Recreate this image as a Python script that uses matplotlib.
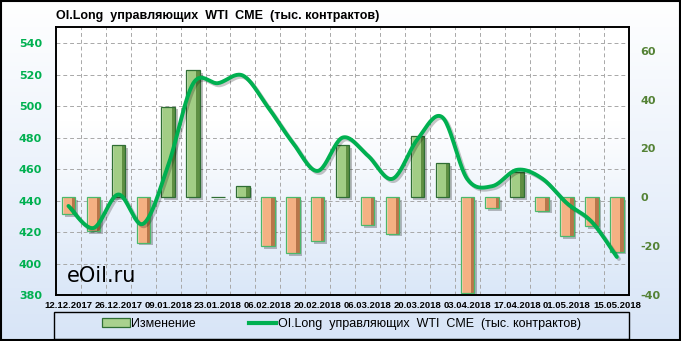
import numpy as np
import matplotlib
matplotlib.use("Agg")
import matplotlib.pyplot as plt
from matplotlib import patheffects as pe
from matplotlib.patches import Rectangle, Patch
from matplotlib.lines import Line2D
from matplotlib.colors import to_rgb

# ---------------- data ----------------
dates = ["12.12.2017", "19.12.2017", "26.12.2017", "02.01.2018", "09.01.2018",
         "16.01.2018", "23.01.2018", "30.01.2018", "06.02.2018", "13.02.2018",
         "20.02.2018", "27.02.2018", "06.03.2018", "13.03.2018", "20.03.2018",
         "27.03.2018", "03.04.2018", "10.04.2018", "17.04.2018", "24.04.2018",
         "01.05.2018", "08.05.2018", "15.05.2018"]
oi_long = [436.6, 422.6, 443.9, 425.3, 462.4, 514.4, 514.7, 519.5, 499.5, 476.8,
           458.9, 480.1, 468.8, 453.9, 479.0, 493.0, 453.7, 449.2, 459.6, 454.1,
           438.3, 426.4, 404.2]
change = [-6.9, -13.8, 21.3, -18.6, 37.1, 52.0, 0.3, 4.8, -20.0, -22.7,
          -17.9, 21.2, -11.3, -14.9, 25.1, 14.0, -39.3, -4.5, 10.4, -5.5,
          -15.8, -11.9, -22.2]
left_ticks = [380, 400, 420, 440, 460, 480, 500, 520, 540]
right_ticks = [-40, -20, 0, 20, 40, 60]
title = "OI.Long  управляющих  WTI  CME  (тыс. контрактов)"
bar_label = "Изменение"
line_label = "OI.Long  управляющих  WTI  CME  (тыс. контрактов)"
watermark = "eOil.ru"

FONT = ["Liberation Sans", "DejaVu Sans"]
TICKFONT = ["DejaVu Sans"]

W, H = 681, 341
fig = plt.figure(figsize=(W / 100, H / 100), dpi=100)

# figure background gradient
bg = fig.add_axes([0, 0, 1, 1], zorder=-10)
bg.axis("off")
t = np.linspace(0, 1, 256)[:, None]
top_c, bot_c = np.array(to_rgb("#ffffff")), np.array(to_rgb("#d8e5f7"))
img = top_c[None, None, :] * (1 - t[..., None]) + bot_c[None, None, :] * t[..., None]
bg.imshow(img, aspect="auto", extent=(0, 1, 0, 1), interpolation="bilinear")
bg.set_xlim(0, 1); bg.set_ylim(0, 1)

# main axes (left scale for line)
ax = fig.add_axes([56 / W, 46 / H, 573.3 / W, 268 / H])
tt = np.clip((np.linspace(0, 1, 256) - 0.35) / 0.65, 0, 1)[:, None]
pc_top, pc_bot = np.array(to_rgb("#ffffff")), np.array(to_rgb("#dae7f8"))
pimg = pc_top[None, None, :] * (1 - tt[..., None]) + pc_bot[None, None, :] * tt[..., None]
ax.imshow(pimg, aspect="auto", extent=(0, 1, 0, 1), transform=ax.transAxes,
          interpolation="bilinear", zorder=0)
ax.set_xlim(-0.5, len(dates) - 0.5)
ax.set_ylim(380, 550.4)

ax.set_yticks(left_ticks, labels=[str(v) for v in left_ticks],
              fontweight="bold", family=TICKFONT, fontsize=8)
ax.tick_params(axis="y", length=0, pad=10, labelcolor="#00b050")
xt = list(range(0, len(dates), 2))
ax.set_xticks(xt, labels=[dates[i] for i in xt], fontweight="bold",
              family=FONT, fontsize=6.8)
ax.set_xticks(np.arange(0.5, len(dates) - 1, 1), minor=True)
ax.tick_params(axis="x", which="both", length=0, pad=4)
gkw = dict(color="#a8a8a8", linewidth=0.7, linestyle=(0, (4, 3)))
ax.grid(True, axis="y", which="major", **gkw)
ax.grid(True, axis="x", which="minor", **gkw)
ax.grid(False, axis="x", which="major")
ax.set_axisbelow(True)
for s in ax.spines.values():
    s.set_color("black"); s.set_linewidth(1.2)

# twin axes (right scale for bars)
ax2 = ax.twinx()
ax2.set_ylim(-40, 69.7)
ax2.set_yticks(right_ticks, labels=[str(v) for v in right_ticks],
               fontweight="bold", family=TICKFONT, fontsize=8)
ax2.tick_params(axis="y", length=0, pad=8, labelcolor="#548235")
for s in ax2.spines.values():
    s.set_color("black"); s.set_linewidth(1.2)

x = np.arange(len(dates))
bar_w = 0.54
colors = ["#a2cd85" if v >= 0 else "#f4b183" for v in change]
bars = ax2.bar(x, change, width=bar_w, color=colors, linewidth=0, zorder=2)
for p, v in zip(bars.patches, change):
    p.set_path_effects([pe.SimplePatchShadow(offset=(2, -2), shadow_rgbFace="k", alpha=0.25),
                        pe.Normal()])
    x0, w = p.get_x(), p.get_width()
    y0, h = p.get_y(), p.get_height()
    pos = v >= 0
    # bevel shading: light left strip, dark right strip
    ax2.add_patch(Rectangle((x0, y0), w * 0.15, h, linewidth=0, zorder=2.1,
                            facecolor="#c4e2ae" if pos else "#fbcfae"))
    ax2.add_patch(Rectangle((x0 + w * 0.75, y0), w * 0.25, h, linewidth=0, zorder=2.1,
                            facecolor="#5f8f43" if pos else "#b8764a"))
    ax2.add_patch(Rectangle((x0, y0), w, h, fill=False, zorder=2.2,
                            edgecolor="#2f6e34" if pos else "#4bb86b", linewidth=0.9))
ax.set_xlim(-0.5, len(dates) - 0.5)
ax2.set_ylim(-40, 69.7)


# smoothed line (Catmull-Rom rendering through the data points)
def smooth(xv, yv, n=24):
    xv = np.asarray(xv, float); yv = np.asarray(yv, float)
    sx, sy = [], []
    m = len(xv)
    for i in range(m - 1):
        i0, i3 = max(i - 1, 0), min(i + 2, m - 1)
        tt_ = np.linspace(0, 1, n, endpoint=False)
        for arr, out in ((xv, sx), (yv, sy)):
            p0, p1, p2, p3 = arr[i0], arr[i], arr[i + 1], arr[i3]
            c1 = p1 + (p2 - p0) / 6
            c2 = p2 - (p3 - p1) / 6
            out.extend((1 - tt_) ** 3 * p1 + 3 * (1 - tt_) ** 2 * tt_ * c1
                       + 3 * (1 - tt_) * tt_ ** 2 * c2 + tt_ ** 3 * p2)
    sx.append(xv[-1]); sy.append(yv[-1])
    return np.array(sx), np.array(sy)


lx, ly = smooth(x, oi_long)
ax2.plot(lx, ly, transform=ax.transData, color="#00b050", linewidth=2.8,
         solid_capstyle="round", solid_joinstyle="round", zorder=5,
         path_effects=[pe.SimpleLineShadow(offset=(1.5, -1.5), alpha=0.22), pe.Normal()])
ax.set_xlim(-0.5, len(dates) - 0.5)
ax.set_ylim(380, 550.4)
ax2.set_ylim(-40, 69.7)

ax2.text(0.0187, 0.047, watermark, transform=ax2.transAxes, ha="left", va="baseline",
         fontsize=15, family=["DejaVu Sans"], color="black", zorder=6)

# title
fig.text(56 / W, 1 - 15.5 / H, title, ha="left", va="center", fontsize=9,
         fontweight="bold", family=FONT)

# legend
fig.add_artist(Rectangle((54 / W, 1 - 339 / H), 575 / W, 27 / H, transform=fig.transFigure,
                         fill=False, edgecolor="black", linewidth=1.0))
handles = [Patch(facecolor="#a9d18e", edgecolor="#2f6e34", linewidth=0.9),
           Line2D([0], [0], color="#00b050", linewidth=3)]
fig.legend(handles, [bar_label, line_label], ncol=2, loc="center",
           bbox_to_anchor=(341.5 / W, 1 - 324 / H), frameon=False,
           columnspacing=4.2, handlelength=2.2, handletextpad=0.15,
           prop=dict(family=FONT, size=9))

# outer frame
fig.add_artist(Rectangle((0.001, 0.002), 0.997, 0.996, transform=fig.transFigure,
                         fill=False, edgecolor="black", linewidth=1.5))

fig.savefig("out.png", dpi=100)
